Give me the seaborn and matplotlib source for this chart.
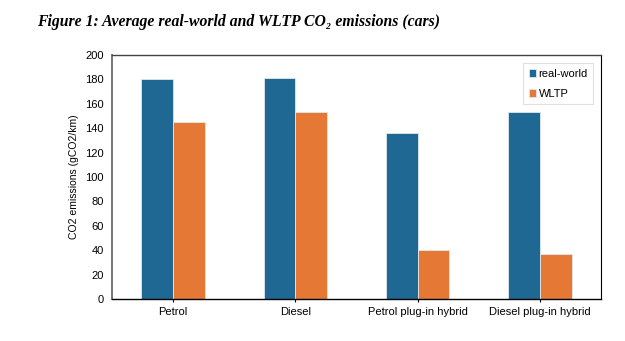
import matplotlib
matplotlib.use("Agg")
import matplotlib.pyplot as plt
import seaborn as sns
import pandas as pd

categories = ["Petrol", "Diesel", "Petrol plug-in hybrid", "Diesel plug-in hybrid"]
real_world = [180, 181, 136, 153]
wltp = [145, 153, 40, 37]
series_names = ["real-world", "WLTP"]
y_ticks = [0, 20, 40, 60, 80, 100, 120, 140, 160, 180, 200]

df = pd.DataFrame({
    "category": categories * 2,
    "value": real_world + wltp,
    "series": [series_names[0]] * 4 + [series_names[1]] * 4,
})

sns.set_style("white")
plt.rcParams["font.family"] = ["Liberation Sans", "DejaVu Sans"]
plt.rcParams["text.color"] = "black"
plt.rcParams["axes.labelcolor"] = "black"
plt.rcParams["xtick.color"] = "black"
plt.rcParams["ytick.color"] = "black"

fig = plt.figure(figsize=(6.25, 3.41), dpi=100)
ax = fig.add_axes([112 / 625, 1 - 299 / 341, (601 - 112) / 625, (299 - 55) / 341])

sns.barplot(data=df, x="category", y="value", hue="series", ax=ax,
            palette=["#1f6894", "#e47834"], width=0.52, gap=0,
            edgecolor="#dfe8ee", linewidth=0.6, saturation=1)

ax.set_ylim(0, 200)
ax.set_yticks(y_ticks)
ax.set_xlim(-0.5, 3.5)
ax.set_xlabel("")
ax.set_ylabel("CO2 emissions (gCO2/km)", fontsize=7.5, labelpad=4)
ax.tick_params(axis="y", labelsize=8, length=0, pad=6)
ax.tick_params(axis="x", labelsize=8, length=2, width=0.8, color="black", direction="out", pad=4, bottom=True)

ax.spines["left"].set_color("#777777")
ax.spines["left"].set_linewidth(1.4)
ax.spines["bottom"].set_color("black")
ax.spines["bottom"].set_linewidth(1.0)
ax.spines["top"].set_color("#444444")
ax.spines["top"].set_linewidth(1.0)
ax.spines["right"].set_color("black")
ax.spines["right"].set_linewidth(0.8)

leg = ax.legend(loc="upper right", bbox_to_anchor=(0.996, 0.99), fontsize=8,
                frameon=True, fancybox=False, handlelength=0.7, handleheight=0.7,
                handletextpad=0.2, labelspacing=0.9, borderpad=0.5, title=None)
leg.get_frame().set_edgecolor("#d9d9d9")
leg.get_frame().set_linewidth(0.8)

fig.text(37 / 625, 1 - 22 / 341, "Figure 1: Average real-world and WLTP CO₂ emissions (cars)",
         family=["Liberation Serif", "DejaVu Serif"], fontsize=11.3, fontweight="bold",
         fontstyle="italic", va="center", ha="left", color="black")

fig.savefig("out.png", dpi=100)
